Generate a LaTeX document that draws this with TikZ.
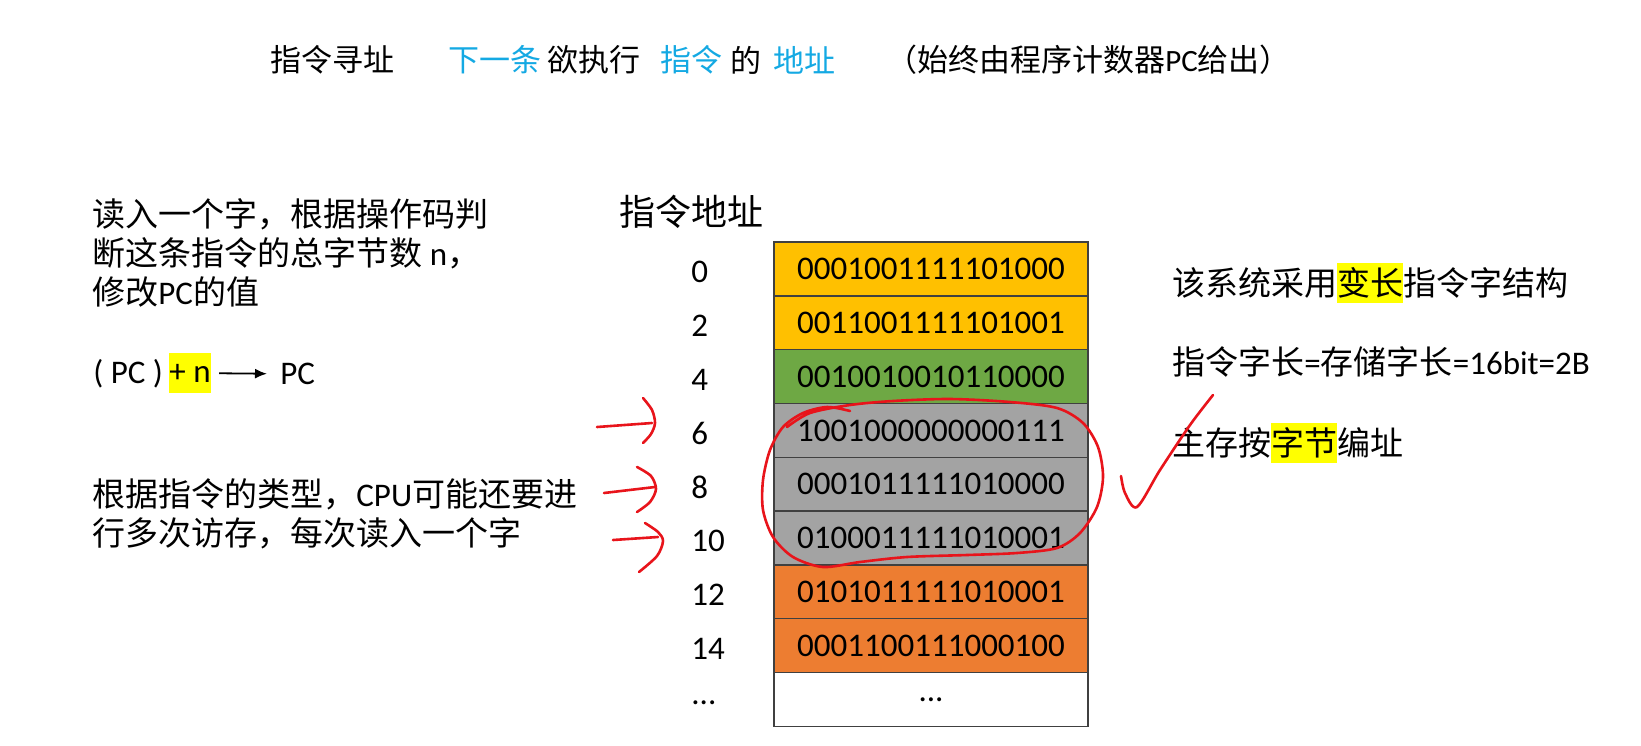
\documentclass[tikz,border=0pt]{standalone}
\usepackage{fontspec}
\setmainfont{Noto Sans CJK SC}
\newfontfamily\lat{Carlito}
\usepackage{xcolor}
\usepackage{tikz}
\usetikzlibrary{arrows.meta, positioning}

\definecolor{cellgold}{HTML}{FFC000}
\definecolor{cellgreen}{HTML}{6EA844}
\definecolor{cellgray}{HTML}{A3A3A3}
\definecolor{cellorange}{HTML}{ED7D31}
\definecolor{titleblue}{HTML}{14A9E3}
\definecolor{hlyellow}{HTML}{FFFF00}
\definecolor{penred}{HTML}{E8141B}

\newcommand\hlbox[1]{{\setlength{\fboxsep}{0pt}\colorbox{hlyellow}{\rule[-0.24em]{0pt}{1.24em}#1}}}
\newcommand\moredots{...}

\begin{document}
\begin{tikzpicture}
  [
    x=0.5pt, y=-0.5pt,
    Title/.style={anchor=west, inner sep=0pt, font=\fontsize{15.5}{18}\selectfont},
    Txt/.style={anchor=west, inner sep=0pt, align=left, font=\fontsize{16.5}{19.7}\selectfont},
    Cell/.style={draw=black!75, line width=0.75pt, minimum width=157pt, minimum height=26.9pt, inner sep=0pt, font=\lat\fontsize{16.5}{19.5}\selectfont},
    Addr/.style={anchor=west, inner sep=0pt, font=\lat\fontsize{16.5}{19.5}\selectfont},
    Pen/.style={draw=penred, line width=1.3pt, line cap=round, line join=round}
  ]
  \useasboundingbox (0,0) rectangle (1641,745);

  % Title
  \node[Title] (t1) at (270, 60) {指令寻址};
  \node[Title, text=titleblue] (t2) at (448, 60) {下一条};
  \node[Title] (t3) at (547, 60) {欲执行};
  \node[Title, text=titleblue] (t4) at (660, 60) {指令};
  \node[Title] (t5) at (730, 60) {的};
  \node[Title, text=titleblue] (t6) at (773, 60) {地址};
  \node[Title] (t7) at (886, 60) {（始终由程序计数器{\lat PC}给出）};

  % Left notes
  \node[Txt] (readword) at (92, 253) {读入一个字，根据操作码判\\断这条指令的总字节数{\lat\ n}，\\修改{\lat PC}的值};

  \node[Txt, font=\lat\fontsize{16.5}{19.5}\selectfont] (pcold) at (93, 374) {( PC )};
  \node[Txt, font=\lat\fontsize{16.5}{19.5}\selectfont, fill=hlyellow, minimum height=20pt] (plusn) at (169, 373) {+ n};
  \node[Txt, font=\lat\fontsize{16.5}{19.5}\selectfont] (pcnew) at (280, 374) {PC};

  \node[Txt] (cputype) at (92, 514) {根据指令的类型，{\lat CPU}可能还要进\\行多次访存，每次读入一个字};

  % Memory
  \node[anchor=west, inner sep=0pt, font=\fontsize{18}{21}\selectfont] (head) at (619, 212) {指令地址};

  \foreach \bits/\lbl/\col [count=\i from 0] in {
      0001001111101000/0/cellgold,
      0011001111101001/2/cellgold,
      0010010010110000/4/cellgreen,
      1001000000000111/6/cellgray,
      0001011111010000/8/cellgray,
      0100011111010001/10/cellgray,
      0101011111010001/12/cellorange,
      0001100111000100/14/cellorange,
      \moredots/\moredots/white}
  {
    \node[Cell, fill=\col] (row\i) at (931, {269+53.8*\i}) {\bits};
    \node[Addr] (addr\i) at (691, {272+53.8*\i}) {\lbl};
  }

  % Right notes
  \node[Txt] (varlen) at (1172, 283) {该系统采用\hlbox{变长}指令字结构};
  \node[Txt] (wordlen) at (1172, 362) {指令字长{\lat =}存储字长{\lat =16bit=2B}};
  \node[Txt] (byteaddr) at (1172, 443) {主存按\hlbox{字节}编址};

  % Lines
  \draw[-{Latex[length=6pt, width=5pt]}, line width=0.9pt, shorten <=4pt, shorten >=6.5pt] (plusn) -- (pcnew);

  % Pen marks
  \draw[Pen] (597,427) -- (652,423);
  \draw[Pen] plot[smooth] coordinates {(643,398) (652,410) (655,423) (651,434) (643,443)};
  \draw[Pen] (604,493) -- (655,487);
  \draw[Pen] plot[smooth] coordinates {(637,467) (651,476) (656,489) (650,502) (637,512)};
  \draw[Pen] (613,540) -- (658,537);
  \draw[Pen] plot[smooth] coordinates {(645,523) (658,532) (663,541) (657,556) (639,572)};

  \draw[Pen] plot[smooth] coordinates {(850,411) (827,407) (803,413) (783,427) (770,450) (763,480)
    (763,510) (773,537) (793,557) (823,567) (860,562) (907,557) (967,555) (1017,553) (1057,548)
    (1080,533) (1097,507) (1103,477) (1098,447) (1083,423) (1057,408) (1010,402) (950,399)
    (893,401) (850,405) (810,413) (787,427)};

  \draw[Pen] plot[smooth] coordinates {(1121,476) (1125,493) (1137,507) (1160,470) (1190,425) (1213,395)};

\end{tikzpicture}
\end{document}
